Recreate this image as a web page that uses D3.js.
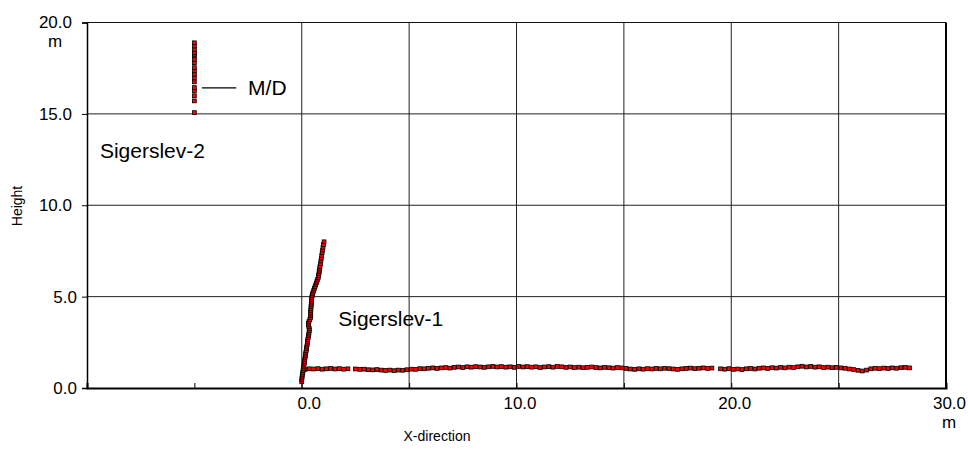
<!DOCTYPE html>
<html><head><meta charset="utf-8">
<script src="https://cdn.jsdelivr.net/npm/d3@7"></script>
<style>
body{margin:0;background:#fff;}
svg text{font-family:Arial,"Liberation Sans",sans-serif;fill:#000;}
</style></head>
<body>
<svg id="c" width="968" height="457"></svg>
<script>
// ---- data ----
const xTicks = [-5, 0, 5, 10, 15, 20, 25, 30];
const xLabelled = [0, 10, 20, 30];
const yTicks = [0, 5, 10, 15, 20];
const unitLabel = "m";
const xTitle = "X-direction";
const yTitle = "Height";

// Sigerslev-1 : borehole trace (x, height)
const sig1Bore = [
 [0.0,0.34],[0.0,0.45],[0.01,0.55],[0.02,0.65],[0.03,0.75],[0.05,0.85],[0.06,0.95],[0.07,1.05],
 [0.09,1.15],[0.1,1.25],[0.12,1.35],[0.13,1.45],[0.14,1.55],[0.15,1.65],[0.17,1.75],[0.18,1.85],
 [0.19,1.95],[0.21,2.05],[0.22,2.15],[0.23,2.25],[0.25,2.35],[0.26,2.45],[0.27,2.55],[0.28,2.65],
 [0.3,2.75],[0.31,2.85],[0.33,2.95],[0.34,3.05],[0.35,3.15],[0.35,3.25],[0.33,3.35],[0.31,3.45],
 [0.31,3.55],[0.34,3.65],[0.38,3.75],[0.41,3.85],[0.42,3.95],[0.42,4.05],[0.41,4.15],[0.42,4.25],
 [0.43,4.35],[0.43,4.45],[0.44,4.55],[0.45,4.65],[0.45,4.75],[0.46,4.85],[0.47,4.95],[0.48,5.05],
 [0.5,5.15],[0.53,5.25],[0.56,5.35],[0.59,5.45],[0.62,5.55],[0.65,5.65],[0.68,5.75],[0.71,5.85],
 [0.74,5.95],[0.77,6.05],[0.78,6.15],[0.8,6.25],[0.81,6.35],[0.82,6.45],[0.84,6.55],[0.85,6.65],
 [0.87,6.8],[0.89,6.95],[0.91,7.1],[0.93,7.25],[0.95,7.4],[0.97,7.55],[0.99,7.7],[1.01,7.85],[1.04,8.0]
];

// Sigerslev-1 : horizontal profile (x, height)
const sig1Profile = [
 [0.15,1.02],[0.35,1.05],[0.55,1.04],[0.75,1.06],[0.95,1.03],[1.15,1.05],[1.35,1.07],[1.55,1.04],
 [1.75,1.06],[1.95,1.03],[2.15,1.05],
 [2.5,1.04],[2.7,1.02],[2.9,1.03],[3.1,1.00],[3.3,0.99],[3.5,1.01],[3.7,0.98],[3.9,0.96],[4.1,0.98],
 [4.3,0.95],[4.5,0.98],[4.7,0.97],[4.9,1.00],[5.1,1.03],[5.3,1.02],[5.5,1.06],[5.7,1.05],[5.9,1.08],
 [6.1,1.10],[6.3,1.07],[6.5,1.10],[6.7,1.12],[6.9,1.09],[7.1,1.13],[7.3,1.15],[7.5,1.12],[7.7,1.16],
 [7.9,1.14],[8.1,1.17],[8.3,1.15],[8.5,1.13],[8.7,1.16],[8.9,1.18],[9.1,1.15],[9.3,1.17],[9.5,1.14],
 [9.7,1.16],[9.9,1.13],[10.1,1.18],[10.3,1.15],[10.5,1.17],[10.7,1.14],[10.9,1.16],[11.1,1.12],
 [11.3,1.15],[11.5,1.17],[11.7,1.14],[11.9,1.18],[12.1,1.16],[12.3,1.13],[12.5,1.15],[12.7,1.12],
 [12.9,1.14],[13.1,1.11],[13.3,1.13],[13.5,1.15],[13.7,1.12],[13.9,1.10],[14.1,1.13],[14.3,1.11],
 [14.5,1.09],[14.7,1.12],[14.9,1.10],[15.1,1.07],[15.3,1.04],[15.5,1.02],[15.7,1.05],[15.9,1.03],
 [16.1,1.06],[16.3,1.04],[16.5,1.07],[16.7,1.05],[16.9,1.08],[17.1,1.06],[17.3,1.04],[17.5,1.02],
 [17.7,1.05],[17.9,1.07],[18.1,1.09],[18.3,1.06],[18.5,1.08],[18.7,1.10],[18.9,1.07],[19.1,1.09],
 [19.5,1.05],[19.7,1.03],[19.9,1.06],[20.1,1.02],[20.3,1.04],[20.5,1.01],[20.7,1.05],[20.9,1.07],
 [21.1,1.04],[21.3,1.08],[21.5,1.10],[21.7,1.07],[21.9,1.11],[22.1,1.09],[22.3,1.13],[22.5,1.10],
 [22.7,1.14],[22.9,1.12],[23.1,1.16],[23.3,1.19],[23.5,1.15],[23.7,1.18],[23.9,1.14],[24.1,1.16],
 [24.3,1.12],[24.5,1.14],[24.7,1.11],[24.9,1.13],[25.1,1.10],[25.3,1.08],[25.5,1.04],[25.7,1.01],
 [25.9,0.97],[26.1,0.93],[26.3,0.98],[26.5,1.05],[26.7,1.08],[26.9,1.06],[27.1,1.09],[27.3,1.07],
 [27.5,1.10],[27.7,1.08],[27.9,1.11],[28.1,1.13],[28.3,1.10]
];

// Sigerslev-2 : vertical trace at x = -5
const sig2X = -5;
const sig2Heights = [15.07,15.71,15.99,16.26,16.44,16.75,16.99,17.17,17.35,17.53,17.8,17.98,18.17,18.26,18.35,18.53,18.71,18.89];

// annotations
const labels = [
 {text:"Sigerslev-2", x:-9.4, y:12.6},
 {text:"Sigerslev-1", x:1.7, y:3.4},
 {text:"M/D", x:-2.5, y:16.05}
];
const mdMarker = {x0:-4.65, x1:-3.05, y:16.42};

// ---- chart ----
const svg = d3.select("#c");
const L = 87, R = 946, T = 22.5, B = 388;
const x = d3.scaleLinear().domain([-10, 30]).range([L, R]);
const y = d3.scaleLinear().domain([0, 20]).range([B, T]);

// grid
const g = svg.append("g");
g.selectAll(".vg").data(xTicks.filter(v => v >= 0 && v < 30)).join("line")
  .attr("x1", d => x(d)).attr("x2", d => x(d)).attr("y1", T).attr("y2", B)
  .attr("stroke", "#222").attr("stroke-width", 1);
g.selectAll(".hg").data(yTicks.filter(v => v > 0 && v < 20)).join("line")
  .attr("x1", L).attr("x2", R).attr("y1", d => y(d)).attr("y2", d => y(d))
  .attr("stroke", "#222").attr("stroke-width", 1);
// top border & right border
svg.append("line").attr("x1", L).attr("x2", R).attr("y1", T).attr("y2", T).attr("stroke", "#111").attr("stroke-width", 1.2);
svg.append("line").attr("x1", R).attr("x2", R).attr("y1", T).attr("y2", B).attr("stroke", "#000").attr("stroke-width", 2);

// x axis
const xAxis = svg.append("g").attr("transform", `translate(0,${B})`)
  .call(d3.axisBottom(x).tickValues(xTicks).tickSize(-5).tickPadding(9)
    .tickFormat(d => xLabelled.includes(d) ? d3.format(".1f")(d) : ""));
xAxis.select(".domain").attr("stroke", "#000").attr("stroke-width", 2);
xAxis.selectAll("text").attr("font-size", 17).attr("dx", d => d === 0 ? 7 : 3);
xAxis.selectAll(".tick line").attr("stroke", "#000");

// y axis
const yAxis = svg.append("g").attr("transform", `translate(${L},0)`)
  .call(d3.axisLeft(y).tickValues(yTicks).tickSize(5).tickPadding(10)
    .tickFormat(d3.format(".1f")));
yAxis.select(".domain").attr("stroke", "#000").attr("stroke-width", 1.5);
yAxis.selectAll("text").attr("font-size", 17).attr("x", d => d >= 10 ? -15 : -10);
yAxis.selectAll(".tick line").attr("stroke", "#000");

// unit labels
svg.append("text").attr("x", 55).attr("y", 47).attr("text-anchor", "middle").attr("font-size", 17).text(unitLabel);
svg.append("text").attr("x", x(30) + 3).attr("y", 428).attr("text-anchor", "middle").attr("font-size", 17).text(unitLabel);

// titles
svg.append("text").attr("x", 437).attr("y", 441).attr("text-anchor", "middle").attr("font-size", 14).text(xTitle);
svg.append("text").attr("transform", "translate(22,206) rotate(-90)").attr("text-anchor", "middle").attr("font-size", 14).text(yTitle);

// markers
const sz = 3.8;
function pts(data) {
  svg.append("g").selectAll("rect").data(data).join("rect")
    .attr("x", d => x(d[0]) - sz / 2).attr("y", d => y(d[1]) - sz / 2)
    .attr("width", sz).attr("height", sz)
    .attr("fill", "#ff0000").attr("stroke", "#000").attr("stroke-width", 0.8);
}
pts(sig1Profile);
pts(sig1Bore);
pts(sig2Heights.map(h => [sig2X, h]));

// M/D marker line
svg.append("line").attr("x1", x(mdMarker.x0)).attr("x2", x(mdMarker.x1))
  .attr("y1", y(mdMarker.y)).attr("y2", y(mdMarker.y)).attr("stroke", "#000").attr("stroke-width", 1.3);

// text labels
svg.append("g").selectAll("text").data(labels).join("text")
  .attr("x", d => x(d.x)).attr("y", d => y(d.y)).attr("font-size", 21).text(d => d.text);
</script>
</body></html>
